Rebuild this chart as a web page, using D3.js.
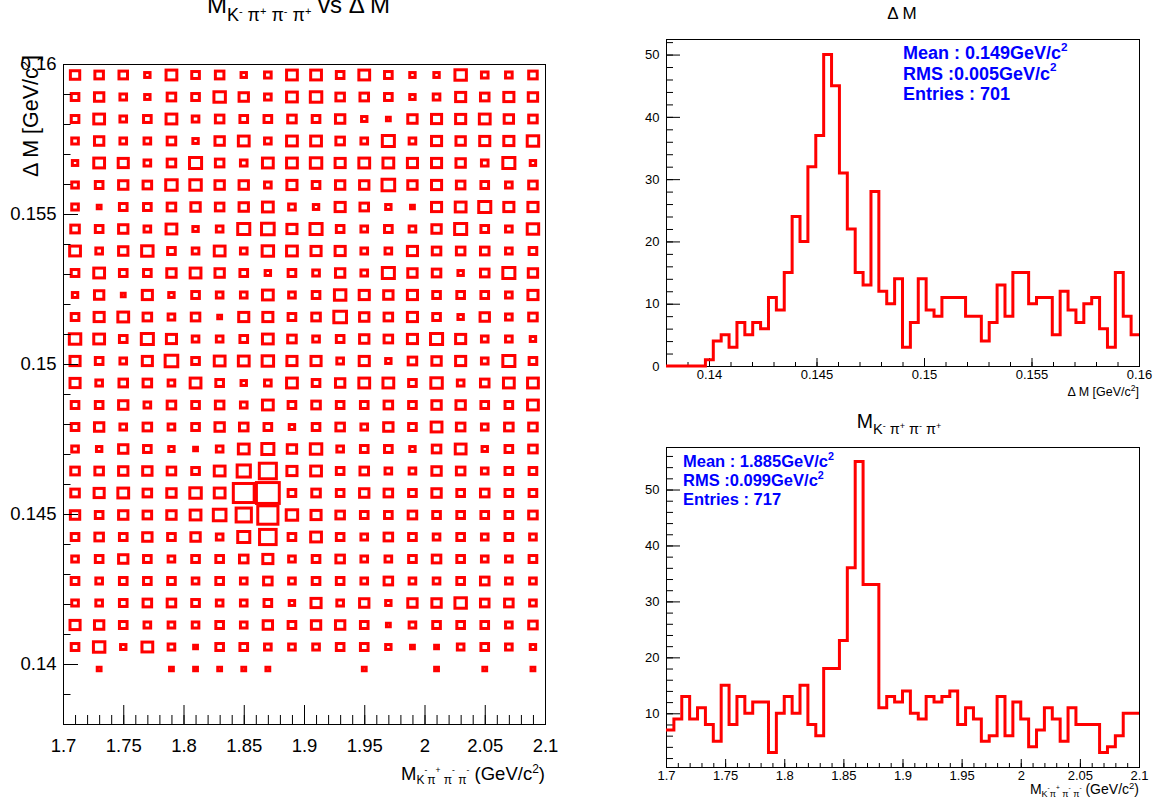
<!DOCTYPE html>
<html>
<head>
<meta charset="utf-8">
<script src="https://cdn.jsdelivr.net/npm/d3@7"></script>
<style>
  body { margin: 0; background: #fff; }
  svg { display: block; font-family: "Liberation Sans", Arial, Helvetica, sans-serif; }
  text { white-space: pre; }
</style>
</head>
<body>
<svg id="canvas" width="1159" height="805"></svg>
<script>
// ---- values ----
// ΔM histogram: 60 bins between 0.138 and 0.16
const dmRange = [0.138, 0.16];
const dmCounts = [0, 0, 0, 0, 0, 1, 4, 5, 3, 7, 5, 7, 6, 11, 9, 15, 24, 20, 32, 37,
                  50, 45, 31, 22, 15, 13, 28, 12, 10, 14, 3, 7, 14, 9, 8, 11, 11, 11, 8, 8,
                  4, 7, 13, 8, 15, 15, 10, 11, 11, 5, 12, 9, 7, 10, 11, 6, 3, 15, 8, 5];
// M(K-pi+pi-pi+) histogram: 60 bins between 1.7 and 2.1
const massRange = [1.7, 2.1];
const massCounts = [7, 9, 13, 9, 11, 8, 5, 15, 8, 13, 10, 12, 12, 3, 10, 13, 10, 15, 8, 6,
                    18, 18, 23, 36, 55, 33, 33, 11, 13, 12, 14, 10, 9, 13, 12, 13, 14, 8, 11, 9,
                    5, 6, 13, 6, 12, 9, 4, 7, 11, 9, 5, 11, 8, 8, 8, 3, 4, 6, 10, 10];
// 2D box plot: 20 mass bins x 30 ΔM bins, rows listed from the top (ΔM = 0.16) downwards
const boxCounts = [
  [6, 5, 5, 2, 8, 4, 5, 2, 3, 8, 8, 4, 8, 4, 2, 2, 9, 3, 3, 5],
  [4, 6, 3, 2, 5, 4, 9, 6, 3, 8, 9, 5, 5, 4, 2, 3, 7, 5, 7, 6],
  [4, 8, 3, 4, 8, 3, 5, 4, 4, 5, 4, 6, 2, 1, 6, 7, 7, 8, 6, 5],
  [3, 6, 3, 3, 5, 2, 6, 8, 3, 8, 8, 5, 3, 10, 3, 7, 6, 7, 7, 9],
  [2, 8, 7, 3, 5, 10, 5, 3, 8, 8, 9, 7, 8, 8, 7, 7, 6, 3, 10, 2],
  [3, 4, 6, 5, 9, 9, 6, 6, 3, 7, 4, 6, 6, 11, 6, 7, 5, 4, 3, 5],
  [3, 1, 4, 4, 5, 6, 5, 6, 8, 3, 2, 7, 5, 2, 1, 7, 8, 10, 7, 7],
  [5, 4, 6, 3, 8, 2, 3, 10, 11, 7, 10, 4, 3, 4, 3, 6, 10, 4, 3, 9],
  [8, 3, 6, 9, 4, 3, 8, 3, 9, 8, 7, 7, 3, 3, 7, 5, 5, 5, 3, 4],
  [4, 8, 4, 4, 6, 8, 6, 4, 2, 4, 3, 6, 3, 10, 6, 5, 2, 5, 10, 6],
  [2, 6, 1, 7, 2, 4, 3, 3, 8, 3, 4, 9, 7, 6, 7, 4, 4, 4, 3, 7],
  [4, 7, 8, 5, 3, 5, 1, 7, 7, 4, 5, 11, 6, 5, 7, 4, 2, 6, 3, 5],
  [9, 8, 4, 10, 7, 3, 3, 4, 8, 5, 3, 4, 6, 5, 7, 10, 7, 3, 3, 2],
  [7, 4, 3, 7, 11, 4, 8, 8, 9, 7, 7, 3, 7, 2, 5, 6, 7, 3, 10, 4],
  [7, 3, 5, 5, 3, 8, 4, 2, 3, 8, 4, 6, 8, 8, 4, 9, 3, 5, 8, 8],
  [4, 4, 6, 3, 5, 4, 5, 3, 8, 4, 5, 4, 4, 5, 4, 6, 6, 4, 4, 8],
  [4, 6, 3, 5, 3, 4, 6, 5, 4, 2, 4, 5, 3, 6, 4, 8, 5, 3, 5, 5],
  [3, 2, 6, 4, 2, 1, 3, 8, 10, 6, 9, 3, 4, 4, 2, 5, 8, 2, 4, 5],
  [5, 5, 6, 6, 5, 4, 8, 12, 20, 7, 8, 4, 5, 3, 3, 6, 5, 3, 4, 4],
  [5, 7, 8, 5, 6, 9, 8, 30, 36, 4, 5, 4, 6, 5, 4, 6, 4, 5, 4, 4],
  [6, 4, 6, 5, 6, 8, 11, 16, 28, 9, 7, 5, 4, 4, 5, 4, 4, 4, 4, 5],
  [4, 5, 4, 6, 4, 6, 3, 10, 19, 4, 8, 4, 3, 5, 4, 3, 4, 3, 4, 3],
  [3, 4, 6, 4, 3, 4, 4, 5, 7, 3, 4, 5, 3, 3, 4, 5, 4, 3, 3, 4],
  [4, 3, 4, 4, 4, 3, 4, 3, 5, 3, 4, 4, 3, 5, 3, 3, 4, 5, 3, 3],
  [3, 3, 4, 5, 5, 4, 3, 3, 4, 2, 7, 3, 6, 2, 6, 6, 9, 5, 5, 3],
  [7, 6, 4, 3, 3, 3, 4, 3, 6, 4, 6, 6, 4, 1, 3, 4, 4, 4, 3, 5],
  [4, 9, 2, 8, 3, 1, 4, 4, 3, 3, 3, 4, 4, 2, 1, 1, 3, 4, 3, 2],
  [0, 1, 0, 0, 1, 1, 1, 1, 1, 0, 0, 0, 1, 0, 0, 1, 0, 1, 0, 1],
  [0, 0, 0, 0, 0, 0, 0, 0, 0, 0, 0, 0, 0, 0, 0, 0, 0, 0, 0, 0],
  [0, 0, 0, 0, 0, 0, 0, 0, 0, 0, 0, 0, 0, 0, 0, 0, 0, 0, 0, 0]
];
const boxMax = 40;

// tick labels
const dmTicks = [0.14, 0.145, 0.15, 0.155, 0.16];
const dmTickLabels = ['0.14', '0.145', '0.15', '0.155', '0.16'];
const massTicks = [1.7, 1.75, 1.8, 1.85, 1.9, 1.95, 2, 2.05, 2.1];
const massTickLabels = ['1.7', '1.75', '1.8', '1.85', '1.9', '1.95', '2', '2.05', '2.1'];
const countTicks = [0, 10, 20, 30, 40, 50];

// stats boxes: [text, has c^2]
const dmStats = [['Mean : 0.149GeV/c', true], ['RMS :0.005GeV/c', true], ['Entries : 701', false]];
const massStats = [['Mean : 1.885GeV/c', true], ['RMS :0.099GeV/c', true], ['Entries : 717', false]];

const svg = d3.select('#canvas');
const RED = '#ff0000';

/*
 * Writes a TLatex-like string: each part is [text, font size, baseline shift]
 */
function rich(textSel, parts) {
    let prev = 0;
    parts.forEach(([t, size, shift]) => {
        textSel.append('tspan').attr('font-size', size).attr('dy', shift - prev).text(t);
        prev = shift;
    });
    return textSel;
}

// draws major ticks with labels and minor ticks, all pointing inside the frame
function addAxis(kind, scale, at, major, labels, minor, majLen, minLen, pad, fs) {
    const make = kind === 'x' ? d3.axisBottom : d3.axisLeft;
    const tr = kind === 'x' ? `translate(0,${at})` : `translate(${at},0)`;
    const gMin = svg.append('g').attr('transform', tr)
        .call(make(scale).tickValues(minor).tickSizeInner(-minLen).tickSizeOuter(0).tickFormat(''));
    const gMaj = svg.append('g').attr('transform', tr)
        .call(make(scale).tickValues(major).tickSizeInner(-majLen).tickSizeOuter(0).tickPadding(pad)
            .tickFormat((d, i) => labels[i]));
    [gMin, gMaj].forEach(g => {
        g.select('.domain').remove();
        g.attr('font-family', null).attr('font-size', fs);
        g.selectAll('line').attr('stroke', '#000');
        g.selectAll('text').attr('fill', '#000');
    });
}

function frame(x0, y0, x1, y1) {
    svg.append('rect')
        .attr('x', x0 + 0.5).attr('y', y0 + 0.5)
        .attr('width', x1 - x0).attr('height', y1 - y0)
        .attr('fill', 'none').attr('stroke', '#000').attr('stroke-width', 1);
}

// ROOT style y range: 5% margin, not below zero
function histRange(vals) {
    const lo = d3.min(vals), hi = d3.max(vals);
    const m = 0.05 * (hi - lo);
    return [Math.max(0, lo - m), hi + m];
}

function stepPath(xScale, yScale, range, counts) {
    const w = (range[1] - range[0]) / counts.length;
    const pts = counts.map((c, i) => [range[0] + i * w, c]);
    pts.push([range[1], counts[counts.length - 1]]);
    return d3.line().x(d => xScale(d[0])).y(d => yScale(d[1])).curve(d3.curveStepAfter)(pts);
}

// ================= left pad: box plot =================
const xL = d3.scaleLinear().domain(massRange).range([63, 545]);
const yL = d3.scaleLinear().domain(dmRange).range([724, 64]);
const nX = boxCounts[0].length, nY = boxCounts.length;
const bx = (massRange[1] - massRange[0]) / nX;
const by = (dmRange[1] - dmRange[0]) / nY;
const boxScale = d3.scaleSqrt().domain([0, boxMax]).range([0, 1]);
const cellW = xL(massRange[0] + bx) - xL(massRange[0]);
const cellH = yL(dmRange[1] - by) - yL(dmRange[1]);

const cells = [];
boxCounts.forEach((row, r) => row.forEach((v, c) => {
    if (v > 0) cells.push({ mass: massRange[0] + bx * (c + 0.5), dm: dmRange[1] - by * (r + 0.5), v });
}));

svg.append('g').selectAll('rect')
    .data(cells)
    .join('rect')
    .attr('x', d => xL(d.mass) - cellW * boxScale(d.v) / 2)
    .attr('y', d => yL(d.dm) - cellH * boxScale(d.v) / 2)
    .attr('width', d => cellW * boxScale(d.v))
    .attr('height', d => cellH * boxScale(d.v))
    .attr('fill', 'none')
    .attr('stroke', RED)
    .attr('stroke-width', 3);

frame(63, 64, 545, 724);
addAxis('x', xL, 724, massTicks, massTickLabels, d3.range(1.7, 2.1001, 0.01), 19, 9, 15, 18.5);
addAxis('y', yL, 63, dmTicks, dmTickLabels, d3.range(0.138, 0.16001, 0.001), 15, 7.5, 6.5, 18.5);

rich(svg.append('text').attr('x', 298.5).attr('y', 13.3).attr('text-anchor', 'middle'),
    [['M', 24, 0], ['K', 18, 7.4], ['-', 11, 1.7], [' π', 18, 7.4], ['+', 11, 1.7],
     [' π', 18, 7.4], ['-', 11, 1.7], [' π', 18, 7.4], ['+', 11, 1.7], [' vs Δ M', 24, 0]]);

rich(svg.append('text').attr('x', 545).attr('y', 780).attr('text-anchor', 'end'),
    [['M', 18.5, 0], ['K', 12, 4], ['-', 8.5, -7], ['π', 12, 4], ['+', 8.5, -7], [' π', 12, 4],
     ['-', 8.5, -7], [' π', 12, 4], ['-', 8.5, -7], [' (GeV/c', 18.5, 0], ['2', 12, -7], [')', 18.5, 0]]);

rich(svg.append('text').attr('transform', 'translate(37.5,177) rotate(-90)').attr('text-anchor', 'start'),
    [['Δ M [GeV/c', 21.5, 0], ['2', 13, -8], [']', 21.5, 0]]);

// ================= right top: ΔM histogram =================
const xT = d3.scaleLinear().domain(dmRange).range([666, 1139]);
const yT = d3.scaleLinear().domain(histRange(dmCounts)).range([366, 39]);
frame(666, 39, 1139, 366);
addAxis('x', xT, 366, dmTicks, dmTickLabels, d3.range(0.138, 0.16001, 0.001), 8, 4, 3.8, 13);
addAxis('y', yT, 666, countTicks, countTicks.map(String),
    d3.range(0, yT.domain()[1], 2), 14, 7, 6.5, 13);
svg.append('path')
    .attr('d', stepPath(xT, yT, dmRange, dmCounts))
    .attr('fill', 'none').attr('stroke', RED).attr('stroke-width', 3);

svg.append('text').attr('x', 902).attr('y', 19).attr('text-anchor', 'middle')
    .attr('font-size', 17).text('Δ M');
rich(svg.append('text').attr('x', 1139).attr('y', 396).attr('text-anchor', 'end'),
    [['Δ M [GeV/c', 12.5, 0], ['2', 8.5, -5], [']', 12.5, 0]]);

function stats(x, y0, step, fs, lines) {
    lines.forEach(([t, sup], i) => {
        const txt = svg.append('text').attr('x', x).attr('y', y0 + i * step)
            .attr('font-size', fs).attr('font-weight', 'bold').attr('fill', '#0000ff').text(t);
        if (sup) txt.append('tspan').attr('font-size', fs * 0.65).attr('dy', -fs * 0.45).text('2');
    });
}
stats(903, 59, 20.5, 18, dmStats);

// ================= right bottom: mass histogram =================
const xB = d3.scaleLinear().domain(massRange).range([666, 1139]);
const yB = d3.scaleLinear().domain(histRange(massCounts)).range([767, 447]);
frame(666, 447, 1139, 767);
addAxis('x', xB, 767, massTicks, massTickLabels, d3.range(1.7, 2.1001, 0.01), 8, 4, 3.8, 13);
addAxis('y', yB, 666, countTicks.slice(1), countTicks.slice(1).map(String),
    d3.range(2, yB.domain()[1], 2), 14, 7, 6.5, 13);
svg.append('path')
    .attr('d', stepPath(xB, yB, massRange, massCounts))
    .attr('fill', 'none').attr('stroke', RED).attr('stroke-width', 3);

rich(svg.append('text').attr('x', 899).attr('y', 428).attr('text-anchor', 'middle'),
    [['M', 19.5, 0], ['K', 14.5, 6], ['-', 9, 1.4], [' π', 14.5, 6], ['+', 9, 1.4],
     [' π', 14.5, 6], ['-', 9, 1.4], [' π', 14.5, 6], ['+', 9, 1.4]]);
rich(svg.append('text').attr('x', 1139).attr('y', 794).attr('text-anchor', 'end'),
    [['M', 14, 0], ['K', 9, 3], ['-', 6.5, -4], ['π', 9, 3], ['+', 6.5, -4], [' π', 9, 3],
     ['-', 6.5, -4], [' π', 9, 3], ['-', 6.5, -4], [' (GeV/c', 14, 0], ['2', 9.5, -5], [')', 14, 0]]);
stats(683, 467, 19, 16.5, massStats);
</script>
</body>
</html>
